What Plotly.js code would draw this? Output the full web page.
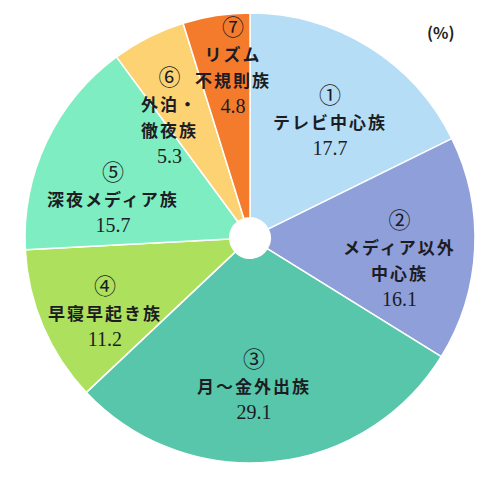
<!DOCTYPE html>
<html><head><meta charset="utf-8">
<script src="https://cdn.plot.ly/plotly-3.0.1.min.js"></script>
<style>html,body{margin:0;padding:0;background:#fff}</style>
</head><body>
<div id="chart" style="width:500px;height:480px"></div>
<script>
const markers = ["①","②","③","④","⑤","⑥","⑦"];
const names = ["テレビ中心族","メディア以外<br>中心族","月～金外出族","早寝早起き族","深夜メディア族","外泊・<br>徹夜族","リズム<br>不規則族"];
const values = [17.7, 16.1, 29.1, 11.2, 15.7, 5.3, 4.8];
const colors = ["#B5DDF6","#8F9FDA","#57C6AA","#ADE05C","#7EEDC2","#FDD272","#F47B2C"];

// label placement (fraction of radius, angle tweak in degrees) per slice
const labelR = [0.64, 0.67, 0.64, 0.72, 0.64, 0.66, 0.78];
const angleAdj = [2, 4, 4, -3, -8, -6, 3];

const W = 500, H = 480;
const cx = 250, cy = 238, R = 225;
const total = values.reduce((a,b)=>a+b,0);
let cum = 0;
const annotations = [];
values.forEach((v,i)=>{
  const mid = (cum + v/2)/total*360 + angleAdj[i];
  cum += v;
  const a = mid*Math.PI/180;
  const px = cx + Math.sin(a)*R*labelR[i];
  const py = cy - Math.cos(a)*R*labelR[i];
  const nm = names[i].split('<br>').map(s=>'<span style="font-size:17px;font-weight:bold;letter-spacing:2px">'+s+'</span>').join('<br>');
  annotations.push({
    xref:'paper', yref:'paper', x:px/W, y:1-py/H,
    xanchor:'center', yanchor:'middle', showarrow:false, align:'center',
    text: '<span style="font-size:22px">' + markers[i] + '</span><br>' + nm + '<br><span style="font-family:\'Liberation Serif\',serif;font-size:20px">' + v.toFixed(1) + '</span>',
    font:{family:'Noto Sans CJK JP', size:20, color:'#1c1c24'}
  });
});
annotations.push({xref:'paper',yref:'paper',x:441/W,y:1-32/H,xanchor:'center',yanchor:'middle',showarrow:false,
  text:'<b>(%)</b>', font:{family:'Noto Sans CJK JP',size:16,color:'#222'}});

Plotly.newPlot('chart',[{
  type:'pie', values: values, labels: names, sort:false, direction:'clockwise', rotation:0,
  hole:0.09, textinfo:'none', marker:{colors:colors, line:{color:'#ffffff', width:1.5}},
  domain:{x:[(cx-R)/W,(cx+R)/W], y:[1-(cy+R)/H, 1-(cy-R)/H]}, showlegend:false
}],{
  width:W, height:H, margin:{l:0,r:0,t:0,b:0}, paper_bgcolor:'#fff', annotations:annotations
},{staticPlot:true});
</script>
</body></html>
